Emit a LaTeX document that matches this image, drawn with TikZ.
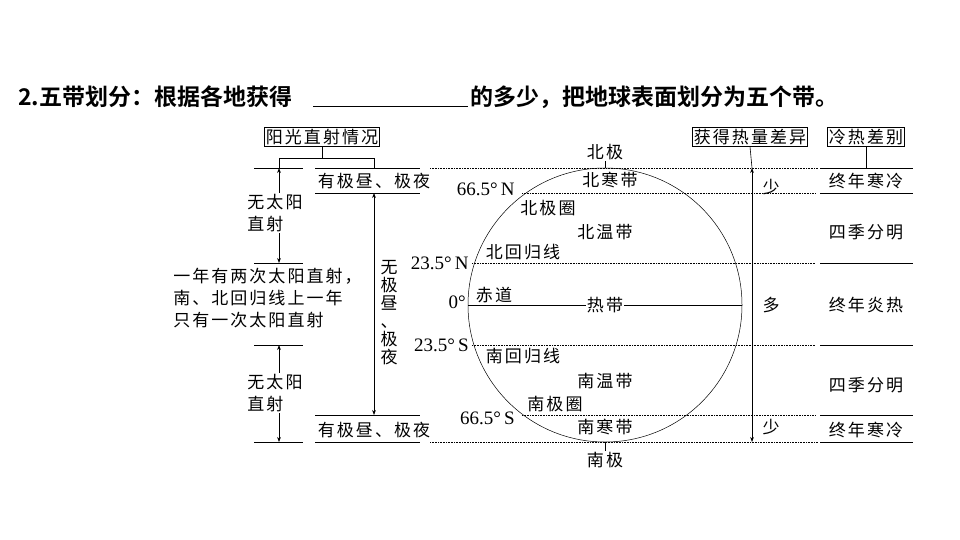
\documentclass[tikz,border=0pt]{standalone}
\usepackage{fontspec}
\newfontfamily\cjk[LetterSpace=12]{Noto Sans CJK SC}
\newfontfamily\cjkb{Noto Sans CJK SC Bold}
\newfontfamily\ser{Liberation Serif}
\usetikzlibrary{arrows.meta}
\tikzset{
  lbl/.style={font=\cjk\fontsize{17}{22}\selectfont, inner sep=1pt},
  deg/.style={font=\ser\fontsize{19}{20}\selectfont, inner sep=1pt},
  hbox/.style={draw, font=\cjk\fontsize{17}{19}\selectfont, inner sep=1.5pt},
  dots/.style={densely dotted, line width=0.6pt},
  dbl/.style={{Stealth[length=5pt]}-{Stealth[length=5pt]}, line width=0.6pt}
}
\begin{document}
\begin{tikzpicture}[x=1pt, y=-1pt, line width=0.6pt]
  \useasboundingbox (0,0) rectangle (960,540);
  % title
  \node[anchor=west, font=\cjkb\fontsize{23}{24}\selectfont, inner sep=0] (title) at (18,97) {2.五带划分：根据各地获得};
  \node[anchor=west, font=\cjkb\fontsize{23}{24}\selectfont, inner sep=0] (title2) at (470,97) {的多少，把地球表面划分为五个带。};
  \coordinate (b1) at (313,106); \coordinate (b2) at (468,106);
  \draw[line width=0.5pt] (b1) -- (b2);

  % earth
  \coordinate (o) at (605,305);
  \draw[line width=0.5pt] (o) circle (137);
  \draw[dots] (430,168) -- (818,168);
  \draw[dots] (430,442) -- (818,442);
  \draw[dots] (522,193) -- (815,193);
  \draw[dots] (522,415) -- (815,415);
  \draw[dots] (472,263) -- (815,263);
  \draw[dots] (472,345) -- (815,345);
  \node[lbl] (tropic) at (605,305) {热带};
  \draw (468,305) -- (tropic.west);
  \draw (tropic.east) -- (742,305);
  \node[lbl] (np) at (605,152) {北极};
  \node[lbl] (sp) at (605,460) {南极};
  \draw (np.south) -- (605,168);
  \draw (sp.north) -- (605,442);
  \node[lbl] at (610,180) {北寒带};
  \node[lbl] at (548,208) {北极圈};
  \node[lbl] at (605,232) {北温带};
  \node[lbl] at (523,252) {北回归线};
  \node[lbl] at (494,295) {赤道};
  \node[lbl] at (523,356) {南回归线};
  \node[lbl] at (605,381) {南温带};
  \node[lbl] at (555,404) {南极圈};
  \node[lbl] at (605,427) {南寒带};
  \node[deg, anchor=east] at (516,189) {66.5°\,N};
  \node[deg, anchor=east] at (470,263) {23.5°\,N};
  \node[deg, anchor=east] at (467,302) {0°};
  \node[deg, anchor=east] at (470,345) {23.5°\,S};
  \node[deg, anchor=east] at (516,418) {66.5°\,S};

  % left part
  \node[hbox] (sun) at (322,137) {阳光直射情况};
  \coordinate (sj) at (322,158);
  \draw (sun.south) -- (sj);
  \draw (279,158) -| (374,168);
  \draw (279,158) -- (279,168);
  \foreach \y in {168,263,345,442} \draw (254,\y) -- (303,\y);
  \foreach \y in {168,193,415,442} \draw (315,\y) -- (420,\y);
  \draw[dbl] (279,168) -- (279,263);
  \draw[dbl] (279,345) -- (279,442);
  \draw[dbl] (374,193) -- (374,415);
  \node[lbl, fill=white, align=left] at (275,213) {无太阳\\直射};
  \node[lbl, fill=white, align=left] at (275,393) {无太阳\\直射};
  \node[lbl, align=left, anchor=west, fill=white] at (172,298) {一年有两次太阳直射，\\南、北回归线上一年\\只有一次太阳直射};
  \node[lbl] at (374,181) {有极昼、极夜};
  \node[lbl] at (374,430) {有极昼、极夜};
  \node[lbl, align=center, fill=white, font=\cjk\fontsize{17}{18}\selectfont] at (389,313) {无\\极\\昼\\、\\极\\夜};

  % right part
  \node[hbox] (heat) at (750,137) {获得热量差异};
  \node[hbox] (cold) at (866,137) {冷热差别};
  \draw (heat.south) -- (752,168);
  \draw (cold.south) -- (866,168);
  \draw[dbl] (752,168) -- (752,442);
  \node[lbl] at (771,187) {少};
  \node[lbl] at (771,305) {多};
  \node[lbl] at (771,427) {少};
  \foreach \y in {168,193,263,345,415,442} \draw (820,\y) -- (913,\y);
  \node[lbl] at (866,181) {终年寒冷};
  \node[lbl] at (866,232) {四季分明};
  \node[lbl] at (866,305) {终年炎热};
  \node[lbl] at (866,385) {四季分明};
  \node[lbl] at (866,430) {终年寒冷};
\end{tikzpicture}
\end{document}
